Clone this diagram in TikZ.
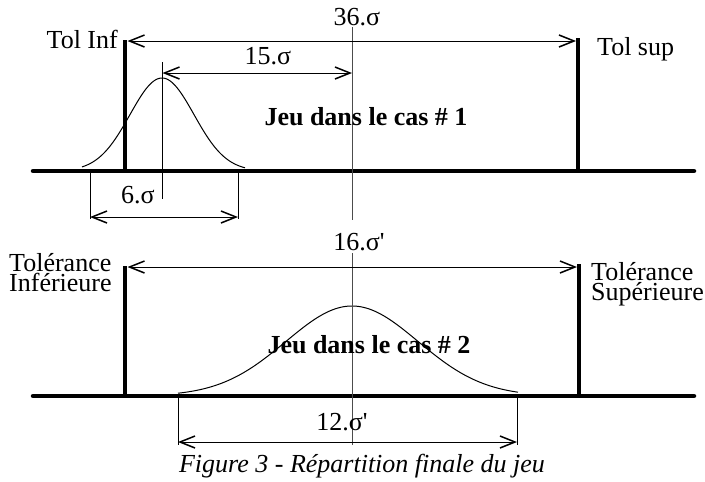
\documentclass[tikz,border=0pt]{standalone}
\usepackage{fontspec}
\setmainfont{Liberation Serif}
\usetikzlibrary{arrows.meta}
\begin{document}
\begin{tikzpicture}[x=1pt,y=-1pt,
  barline/.style={line width=4.5pt},
  baseln/.style={line width=4.5pt, line cap=round},
  thinln/.style={line width=1pt},
  axisln/.style={line width=1pt, black!70},
  barb/.tip={Straight Barb[length=15pt,width=12pt,line width=1.5pt]},
  dimarrow/.style={line width=1pt, barb-barb},
  lbl/.style={font=\fontsize{26}{20}\selectfont, inner sep=0pt, anchor=base},
  blbl/.style={lbl, font=\fontsize{26}{20}\selectfont\bfseries},
  curve/.style={line width=1pt}
]
\useasboundingbox (0,0) rectangle (705,482);

% ---------- case 1 ----------
\coordinate (b1L) at (33,171);
\coordinate (b1R) at (694,171);
\draw[baseln] (b1L) -- (b1R);
\coordinate (t1Lb) at (125,171); \coordinate (t1Lt) at (125,40);
\coordinate (t1Rb) at (578,171); \coordinate (t1Rt) at (578,38);
\draw[barline] (t1Lb) -- (t1Lt);
\draw[barline] (t1Rb) -- (t1Rt);
\draw[curve] plot[domain=-80:83, samples=90, smooth] ({162+\x},{171-93*exp(-((\x/32)^2)/2)});
\coordinate (c1t) at (352,27); \coordinate (c1b) at (352,220);
\draw[axisln] (c1t) -- (c1b);
\coordinate (g1t) at (162,62); \coordinate (g1b) at (162,199);
\draw[thinln] (g1t) -- (g1b);
\coordinate (a36L) at (127.5,41); \coordinate (a36R) at (576,41);
\draw[dimarrow] (a36L) -- (a36R);
\coordinate (a15L) at (162.5,73); \coordinate (a15R) at (352,73);
\draw[dimarrow] (a15L) -- (a15R);
\coordinate (s6Lt) at (90,171); \coordinate (s6Lb) at (90,219);
\coordinate (s6Rt) at (238,171); \coordinate (s6Rb) at (238,219);
\draw[thinln] (s6Lt) -- (s6Lb);
\draw[thinln] (s6Rt) -- (s6Rb);
\coordinate (a6L) at (90,217); \coordinate (a6R) at (238,217);
\draw[dimarrow] (a6L) -- (a6R);
\node[lbl] (l36) at (357,25) {36.σ};
\node[lbl] (l15) at (268,64) {15.σ};
\node[lbl] (l6) at (138,203) {6.σ};
\node[lbl, anchor=base east] (tinf) at (118,48) {Tol Inf};
\node[lbl, anchor=base west] (tsup) at (597,55) {Tol sup};
\node[blbl] (jeu1) at (366,125) {Jeu dans le cas \# 1};

% ---------- case 2 ----------
\coordinate (b2L) at (33,396);
\coordinate (b2R) at (694,396);
\draw[baseln] (b2L) -- (b2R);
\coordinate (t2Lb) at (125,396); \coordinate (t2Lt) at (125,266);
\coordinate (t2Rb) at (579,396); \coordinate (t2Rt) at (579,264);
\draw[barline] (t2Lb) -- (t2Lt);
\draw[barline] (t2Rb) -- (t2Rt);
\draw[curve] plot[domain=-174:166, samples=120, smooth] ({352+\x},{396-90*exp(-((\x/66)^2)/2)});
\coordinate (c2t) at (352,253); \coordinate (c2b) at (352,445);
\draw[axisln] (c2t) -- (c2b);
\coordinate (a16L) at (127.5,267); \coordinate (a16R) at (577,267);
\draw[dimarrow] (a16L) -- (a16R);
\coordinate (s12Lt) at (178,396); \coordinate (s12Lb) at (178,445);
\coordinate (s12Rt) at (517,396); \coordinate (s12Rb) at (517,445);
\draw[thinln] (s12Lt) -- (s12Lb);
\draw[thinln] (s12Rt) -- (s12Rb);
\coordinate (a12L) at (178,442); \coordinate (a12R) at (517,442);
\draw[dimarrow] (a12L) -- (a12R);
\node[lbl] (l16) at (359,250) {16.σ\textquotesingle};
\node[lbl] (l12) at (342,430) {12.σ\textquotesingle};
\node[lbl, anchor=base west, align=left] (tolinf) at (9,291) {Tolérance\\Inférieure};
\node[lbl, anchor=base west, align=left] (tolsup) at (591,300) {Tolérance\\Supérieure};
\node[blbl] (jeu2) at (369,353) {Jeu dans le cas \# 2};

\node[lbl, font=\fontsize{26}{20}\selectfont\itshape] (cap) at (362,472) {Figure 3 - Répartition finale du jeu};
\end{tikzpicture}
\end{document}
